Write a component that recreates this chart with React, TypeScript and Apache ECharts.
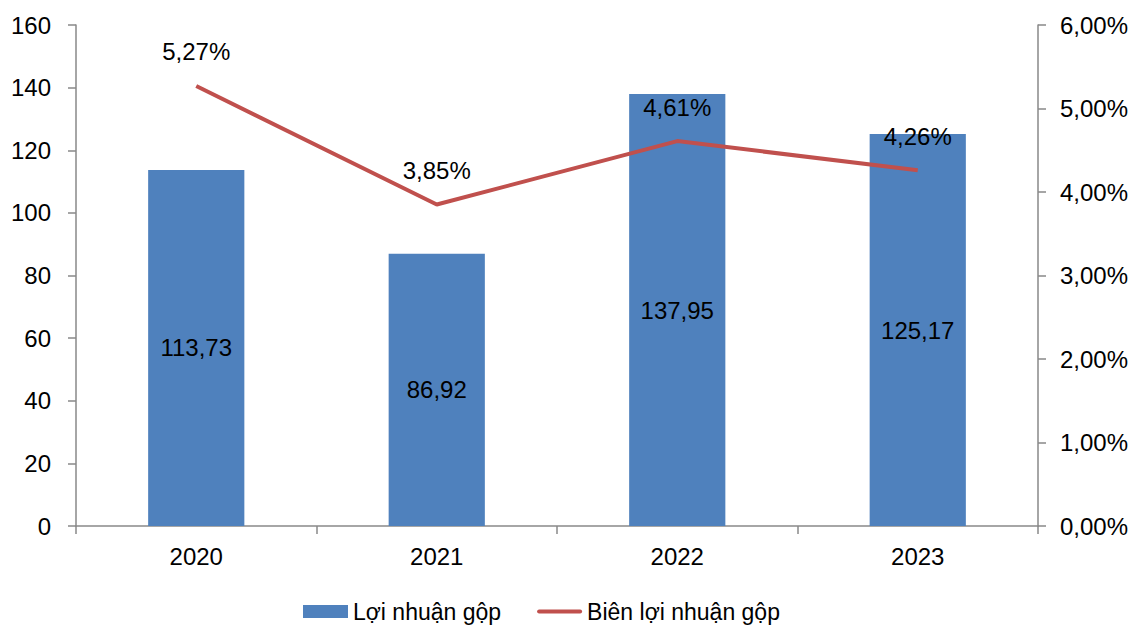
import React, { useEffect, useRef } from "react";
import * as echarts from "echarts";

const categories = ["2020", "2021", "2022", "2023"];
const grossProfit = [113.73, 86.92, 137.95, 125.17];
const grossMargin = [5.27, 3.85, 4.61, 4.26];
const barName = "Lợi nhuận gộp";
const lineName = "Biên lợi nhuận gộp";

const fmt = (v: number, d: number) => v.toFixed(d).replace(".", ",");

export default function App() {
  const ref = useRef<HTMLDivElement>(null);
  useEffect(() => {
    if (!ref.current) return;
    const chart = echarts.init(ref.current, null, { renderer: "svg" });
    const font = "'Liberation Sans', Arial, sans-serif";
    const axisColor = "#898989";
    const fs = 24;
    chart.setOption({
      animation: false,
      backgroundColor: "#ffffff",
      textStyle: { fontFamily: font },
      grid: { left: 76, right: 104, top: 25, bottom: 99 },
      legend: {
        bottom: -3,
        left: 298,
        itemGap: 36,
        itemWidth: 45,
        itemHeight: 13,
        symbolKeepAspect: true,
        textStyle: { fontFamily: font, fontSize: 23, color: "#000" },
        data: [
          { name: barName, icon: "rect" },
          { name: lineName, icon: "path://M2,0h41a2,2 0 0 1 0,4h-41a2,2 0 0 1 0,-4z" },
        ],
      },
      xAxis: {
        type: "category",
        data: categories,
        axisLine: { lineStyle: { color: axisColor, width: 1.5 } },
        axisTick: { show: true, length: 8, lineStyle: { color: axisColor, width: 1.5 } },
        axisLabel: { color: "#000", fontSize: fs, fontFamily: font, margin: 18 },
        splitLine: { show: false },
      },
      yAxis: [
        {
          type: "value",
          min: 0,
          max: 160,
          interval: 20,
          axisLine: { show: true, lineStyle: { color: axisColor, width: 1.5 } },
          axisTick: { show: true, length: 8, lineStyle: { color: axisColor, width: 1.5 } },
          axisLabel: { color: "#000", fontSize: fs, fontFamily: font, margin: 25 },
          splitLine: { show: false },
        },
        {
          type: "value",
          min: 0,
          max: 6,
          interval: 1,
          position: "right",
          axisLine: { show: true, lineStyle: { color: axisColor, width: 1.5 } },
          axisTick: { show: true, length: 8, lineStyle: { color: axisColor, width: 1.5 } },
          axisLabel: {
            color: "#000",
            fontSize: fs,
            fontFamily: font,
            margin: 22,
            formatter: (v: number) => fmt(v, 2) + "%",
          },
          splitLine: { show: false },
        },
      ],
      series: [
        {
          name: barName,
          type: "bar",
          data: grossProfit,
          barWidth: "40%",
          itemStyle: { color: "#4F81BD" },
          label: {
            show: true,
            position: "inside",
            color: "#000",
            fontSize: fs,
            fontFamily: font,
            formatter: (p: any) => fmt(p.value, 2),
          },
        },
        {
          name: lineName,
          type: "line",
          yAxisIndex: 1,
          data: grossMargin,
          symbol: "circle",
          symbolSize: 0.1,
          showSymbol: true,
          lineStyle: { color: "#C0504D", width: 4 },
          itemStyle: { color: "#C0504D" },
          label: {
            show: true,
            position: "top",
            distance: 22,
            color: "#000",
            fontSize: fs,
            fontFamily: font,
            formatter: (p: any) => fmt(p.value, 2) + "%",
          },
        },
      ],
    });
    return () => chart.dispose();
  }, []);
  return (
    <div
      ref={ref}
      style={{ position: "fixed", left: 0, top: 0, width: 1142, height: 625 }}
    />
  );
}
